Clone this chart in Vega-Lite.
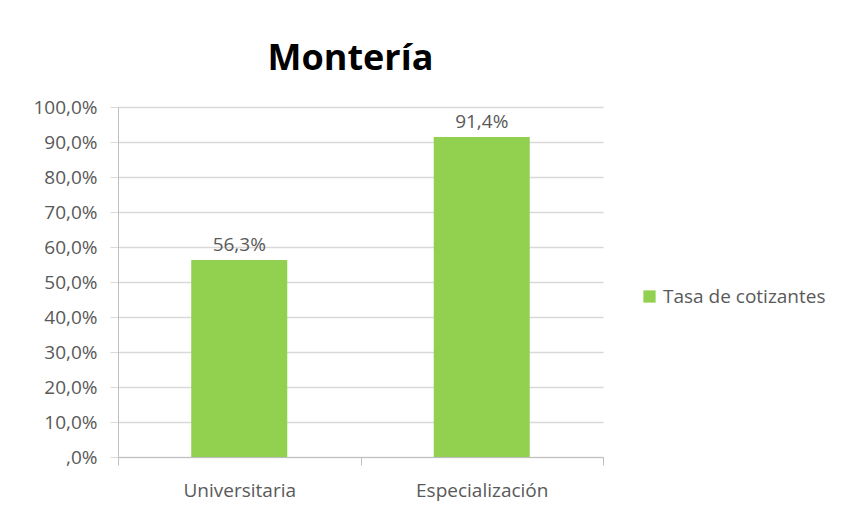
{
  "$schema": "https://vega.github.io/schema/vega-lite/v6.json",
  "width": 485,
  "height": 350,
  "autosize": "none",
  "padding": {"left": 118, "top": 107, "right": 240, "bottom": 55},
  "background": "white",
  "config": {
    "view": {"stroke": null},
    "font": "Open Sans",
    "locale": {"number": {"decimal": ",", "thousands": ".", "grouping": [3], "currency": ["", " €"]}}
  },
  "title": {"text": "Montería", "font": "Open Sans", "fontSize": 36, "fontWeight": "bold", "color": "#000000", "anchor": "middle", "dx": -10, "offset": 20},
  "data": {
    "values": [
      {"nivel": "Universitaria", "tasa": 0.563, "serie": "Tasa de cotizantes"},
      {"nivel": "Especialización", "tasa": 0.914, "serie": "Tasa de cotizantes"}
    ]
  },
  "encoding": {
    "x": {
      "field": "nivel", "type": "nominal", "sort": null,
      "scale": {"paddingInner": 0, "paddingOuter": 0},
      "axis": {"title": null, "labelAngle": 0, "labelFontSize": 19, "labelColor": "#595959", "labelPadding": 16, "domainColor": "#bfbfbf", "tickColor": "#bfbfbf", "tickSize": 8, "tickBand": "extent", "grid": false}
    },
    "y": {
      "field": "tasa", "type": "quantitative",
      "scale": {"domain": [0, 1], "nice": false},
      "axis": {"title": null, "format": ".1%", "values": [0, 0.1, 0.2, 0.3, 0.4, 0.5, 0.6, 0.7, 0.8, 0.9, 1],
        "labelExpr": "datum.value == 0 ? ',0%' : datum.label",
        "labelFontSize": 19, "labelColor": "#595959", "labelPadding": 13, "tickSize": 8, "tickColor": "#d9d9d9",
        "domainColor": "#bfbfbf", "grid": true, "gridColor": "#d9d9d9", "gridWidth": 1.5}
    }
  },
  "layer": [
    {
      "mark": {"type": "bar", "width": {"band": 0.396}},
      "encoding": {
        "color": {"field": "serie", "type": "nominal", "scale": {"range": ["#92D050"]},
          "legend": {"title": null, "orient": "none", "legendX": 522, "legendY": 180, "padding": 0, "symbolType": "square", "symbolSize": 150, "symbolStrokeWidth": 0, "symbolOpacity": 1, "labelFontSize": 19, "labelColor": "#595959", "labelOffset": 4, "labelLimit": 0}}
      }
    },
    {
      "mark": {"type": "text", "baseline": "alphabetic", "dy": -9, "fontSize": 19, "color": "#595959"},
      "encoding": {"text": {"field": "tasa", "type": "quantitative", "format": ".1%"}}
    }
  ]
}
